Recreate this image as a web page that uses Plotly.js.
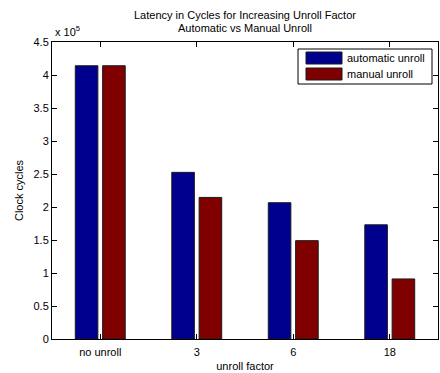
<!DOCTYPE html>
<html>
<head>
<meta charset="utf-8">
<script src="https://cdn.plot.ly/plotly-3.0.1.min.js"></script>
<style>
  html, body { margin: 0; padding: 0; background: #fff; }
  #chart { width: 440px; height: 373px; }
</style>
</head>
<body>
<div id="chart"></div>
<script>
// Unroll factors on the x axis
const categories = ['no unroll', '3', '6', '18'];
// Latency in clock cycles for each approach
const automaticUnroll = [414000, 252500, 206500, 173000];
const manualUnroll = [414000, 214500, 149000, 91000];
const seriesNames = ['automatic unroll', 'manual unroll'];
// Y tick positions (cycles) and their labels (in units of 10^5)
const yTickVals = [0, 50000, 100000, 150000, 200000, 250000, 300000, 350000, 400000, 450000];
const yTickText = ['0', '0.5', '1', '1.5', '2', '2.5', '3', '3.5', '4', '4.5'];
const titleLines = ['Latency in Cycles for Increasing Unroll Factor', 'Automatic vs Manual Unroll'];

const W = 440, H = 373;
const M = { l: 52, r: 2, t: 42, b: 34 };
const plotW = W - M.l - M.r, plotH = H - M.t - M.b;
// pixel -> paper helpers for the legend box and labels
const px = x => (x - M.l) / plotW;
const py = y => (H - M.b - y) / plotH;

const colors = ['#00008F', '#800000'];
const font = { family: 'Liberation Sans, Arial, sans-serif', size: 11, color: '#000' };

const traces = [automaticUnroll, manualUnroll].map((vals, i) => ({
  type: 'bar',
  x: categories,
  y: vals,
  name: seriesNames[i],
  marker: { color: colors[i], line: { color: '#1a1a1a', width: 1 } },
  hoverinfo: 'x+y'
}));

// hand-drawn legend: frame, swatches and labels
const legendShapes = [
  { type: 'rect', xref: 'paper', yref: 'paper', x0: px(298), x1: px(432), y0: py(49), y1: py(84),
    line: { color: '#000', width: 1 }, fillcolor: '#fff', layer: 'above' }
];
const legendAnnots = [];
seriesNames.forEach((name, i) => {
  const top = 52 + i * 16;
  legendShapes.push({ type: 'rect', xref: 'paper', yref: 'paper',
    x0: px(306), x1: px(342), y0: py(top), y1: py(top + 12),
    line: { color: '#1a1a1a', width: 1 }, fillcolor: colors[i], layer: 'above' });
  legendAnnots.push({ xref: 'paper', yref: 'paper', x: px(345), y: py(top + 6),
    xanchor: 'left', yanchor: 'middle', text: name, showarrow: false, font: font });
});

// two-line chart title above the axes
const titleAnnots = titleLines.map((t, i) => ({
  xref: 'paper', yref: 'paper', x: 0.5, y: py(15 + i * 13),
  xanchor: 'center', yanchor: 'middle', text: t, showarrow: false, font: font
}));

const layout = {
  width: W, height: H,
  margin: M,
  paper_bgcolor: '#fff', plot_bgcolor: '#fff',
  font: font,
  showlegend: false,
  barmode: 'group',
  bargap: 0.433,
  bargroupgap: 0.175,
  xaxis: {
    type: 'category',
    range: [-0.5, 3.5],
    showgrid: false, zeroline: false,
    showline: true, linecolor: '#000', linewidth: 1, mirror: 'ticks',
    ticks: 'inside', ticklen: 5, tickcolor: '#000', tickwidth: 1,
    ticklabelstandoff: 3,
    tickfont: font,
    title: { text: 'unroll factor', font: font, standoff: 5 }
  },
  yaxis: {
    range: [0, 450000],
    tickvals: yTickVals, ticktext: yTickText,
    showgrid: false, zeroline: false,
    showline: true, linecolor: '#000', linewidth: 1, mirror: 'ticks',
    ticks: 'inside', ticklen: 5, tickcolor: '#000', tickwidth: 1,
    tickfont: font,
    title: { text: 'Clock cycles', font: font, standoff: 7 }
  },
  shapes: legendShapes,
  annotations: titleAnnots.concat(legendAnnots, [
    { xref: 'paper', yref: 'paper', x: px(53), y: py(31), xanchor: 'left', yanchor: 'middle',
      text: 'x 10<sup>5</sup>', showarrow: false, font: font }
  ])
};

Plotly.newPlot('chart', traces, layout, { displayModeBar: false, staticPlot: true });
</script>
</body>
</html>
